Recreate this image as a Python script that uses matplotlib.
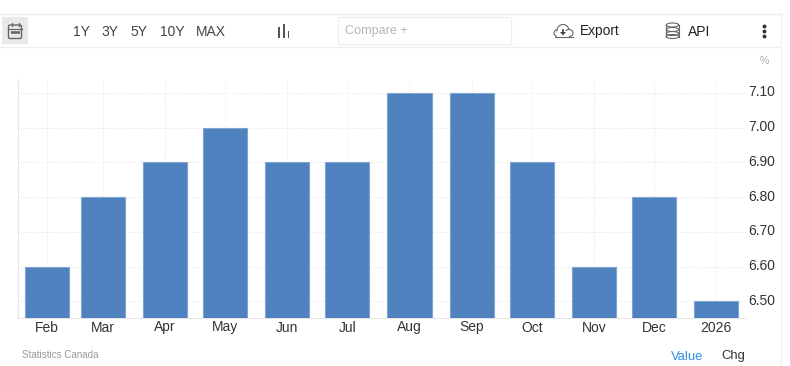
import datetime as dt
import matplotlib
matplotlib.use("Agg")
import matplotlib.pyplot as plt
import matplotlib.dates as mdates
from matplotlib.patches import Rectangle, Ellipse, FancyBboxPatch, Polygon
from matplotlib.transforms import ScaledTranslation

plt.rcParams['font.family'] = ['Liberation Sans', 'DejaVu Sans']

months = ["2025-02-01", "2025-03-01", "2025-04-01", "2025-05-01", "2025-06-01", "2025-07-01",
          "2025-08-01", "2025-09-01", "2025-10-01", "2025-11-01", "2025-12-01", "2026-01-01"]
month_labels = ["Feb", "Mar", "Apr", "May", "Jun", "Jul", "Aug", "Sep", "Oct", "Nov", "Dec", "2026"]
values = [6.6, 6.8, 6.9, 7.0, 6.9, 6.9, 7.1, 7.1, 6.9, 6.6, 6.8, 6.5]
y_ticks = [6.5, 6.6, 6.7, 6.8, 6.9, 7.0, 7.1]
ranges = ["1Y", "3Y", "5Y", "10Y", "MAX"]
range_x = [81, 109.5, 138.5, 172, 210.5]

W, H = 790, 366
fig = plt.figure(figsize=(W / 100, H / 100), dpi=100, facecolor="white")

L, R, T, B = 18, 746, 79, 318
ax = fig.add_axes([L / W, 1 - B / H, (R - L) / W, (B - T) / H])
dates = [dt.datetime.fromisoformat(m) for m in months]
xs = mdates.date2num(dates)
ax.bar(xs, values, width=22, color="#4e81bd", edgecolor="#7ea3d0", linewidth=0.8, zorder=3)
ax.set_xlim(xs[0] - 14.25, xs[-1] + 14.85)
ax.set_ylim(6.452, 7.14)
ax.set_xticks(xs, month_labels)
ax.set_yticks(y_ticks, [f"{v:.2f}" for v in y_ticks])
ax.yaxis.tick_right()
ax.tick_params(axis="both", length=0, labelsize=10, labelcolor="#333333")
ax.tick_params(axis="x", pad=1.8)
ax.tick_params(axis="y", pad=1.5)
up = ScaledTranslation(0, 2 / 100, fig.dpi_scale_trans)
for lab in ax.get_yticklabels():
    lab.set_transform(lab.get_transform() + up)
ax.grid(True, color="#eeeeee", linewidth=0.7, linestyle=(0, (1.5, 1)), zorder=0)
ax.set_axisbelow(True)
for side in ("top", "right"):
    ax.spines[side].set_visible(False)
for side in ("left", "bottom"):
    ax.spines[side].set_color("#e6e6e6")
    ax.spines[side].set_linewidth(0.8)

# page chrome overlay in pixel coordinates
ov = fig.add_axes([0, 0, 1, 1], facecolor="none")
ov.set_xlim(0, W)
ov.set_ylim(H, 0)
ov.axis("off")
for yy in (13.5, 47):
    ov.plot([0, 780], [yy, yy], color="#eeeeee", lw=0.9)
ov.plot([780.5, 780.5], [13, 366], color="#f0f0f0", lw=0.8)

# calendar button
ov.add_patch(Rectangle((2, 17), 26, 27, fc="#e9e9e9", ec="none"))
ov.add_patch(FancyBboxPatch((8.5, 25), 13, 13.5, boxstyle="round,pad=0,rounding_size=1.5",
                            fc="none", ec="#666666", lw=1))
ov.plot([8.5, 21.5], [28.5, 28.5], color="#666666", lw=0.9)
ov.plot([11.5, 11.5], [23, 26], color="#666666", lw=0.9)
ov.plot([18.5, 18.5], [23, 26], color="#666666", lw=0.9)
ov.plot([11.5, 14.5, 17.5], [31.5, 31.5, 31.5], ls="none", marker="s", ms=1.1, color="#666666")

for label, x in zip(ranges, range_x):
    ov.text(x, 31.5, label, ha="center", va="center", fontsize=10, color="#444444")

# chart type icon
for x, top, wid in ((279, 27, 2), (284, 24, 2), (288.5, 31, 1.6)):
    ov.add_patch(Rectangle((x - wid / 2, top), wid, 37.5 - top, fc="#555555", ec="none"))

# compare box
ov.add_patch(Rectangle((337.5, 16.5), 173, 27, fc="white", ec="#eeeeea", lw=0.9))
ov.text(345, 31, "Compare +", ha="left", va="center", fontsize=9.1, color="#b5b5b5")

# export cloud icon
for cx, cy, w, h in ((558, 33, 8, 7), (563, 30.5, 12, 12), (569, 33, 8, 7)):
    ov.add_patch(Ellipse((cx, cy), w, h, fc="white", ec="#666666", lw=0.8))
ov.add_patch(Rectangle((557, 30.5), 12, 6, fc="white", ec="none", zorder=3))
ov.plot([554.5, 572.5], [36.5, 36.5], color="#666666", lw=0.8, zorder=4)
ov.add_patch(Polygon([[560, 32], [566, 32], [563, 35.5]], fc="#444444", ec="none", zorder=4))
ov.plot([563, 563], [29.5, 32], color="#444444", lw=1.2, zorder=4)
ov.text(580, 31.5, "Export", ha="left", va="center", fontsize=9.9, color="#222222")

# database icon
for cy in (25, 29.5, 33.5):
    ov.add_patch(Ellipse((672.5, cy), 12.5, 4, fc="none", ec="#666666", lw=0.8))
for x in (666.2, 678.8):
    ov.plot([x, x], [25, 36.5], color="#666666", lw=0.8)
ov.add_patch(Ellipse((672.5, 36.5), 12.5, 4, fc="none", ec="#666666", lw=0.8))
ov.text(688, 31.5, "API", ha="left", va="center", fontsize=10, color="#222222")

# menu dots
ov.plot([764, 764, 764], [26, 31, 35.5], ls="none", marker="o", ms=1.8, color="#333333")

ov.text(764, 61.5, "%", ha="center", va="center", fontsize=7.6, color="#aaaaaa")
ov.text(22, 355.5, "Statistics Canada", ha="left", va="center", fontsize=7.1, color="#999999")
ov.text(670.5, 359.5, "Value", ha="left", va="baseline", fontsize=9.4, color="#2f8fe8")
ov.text(721, 359.5, "Chg", ha="left", va="baseline", fontsize=9.4, color="#333333")

fig.savefig("out.png", dpi=100)
